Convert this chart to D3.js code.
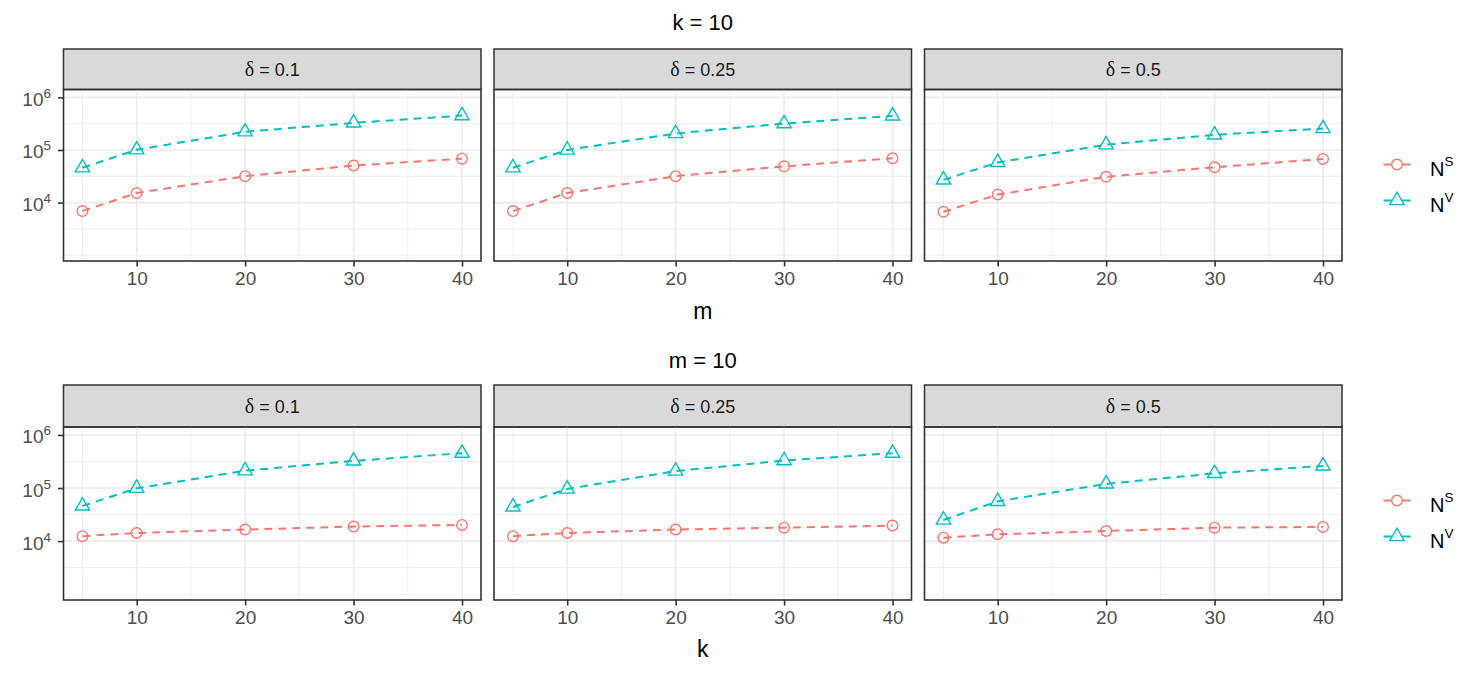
<!DOCTYPE html>
<html>
<head>
<meta charset="utf-8">
<script src="https://cdn.jsdelivr.net/npm/d3@7"></script>
<style>
  body { margin: 0; background: #fff; }
  svg { font-family: "Liberation Sans", Arial, sans-serif; }
</style>
</head>
<body>
<script>
// x values (m in top row, k in bottom row)
var xValues = [5, 10, 20, 30, 40];
var deltas = ["0.1", "0.25", "0.5"];
var xTicks = [10, 20, 30, 40];
var xMinor = [5, 15, 25, 35];
var yTicks = [1e4, 1e5, 1e6];
var yMinor = [1e3, Math.pow(10, 3.5), Math.pow(10, 4.5), Math.pow(10, 5.5)];

// k = 10, m varies
var topNs = [
  [6900, 15200, 31800, 50600, 68500],
  [6900, 15200, 31800, 49000, 69700],
  [6700, 14200, 31000, 47000, 67600]
];
var topNv = [
  [46000, 101000, 222000, 328000, 451000],
  [46000, 100000, 206000, 318000, 445000],
  [27000, 58000, 126000, 194000, 256000]
];

// m = 10, k varies
var botNs = [
  [12400, 14200, 16500, 18800, 20200],
  [12400, 14200, 16500, 17900, 19600],
  [11600, 13400, 15500, 17900, 18500]
];
var botNv = [
  [46000, 99000, 212000, 324000, 454000],
  [44000, 96000, 209000, 329000, 454000],
  [25000, 56000, 120000, 189000, 261000]
];

var colNs = "#F8766D", colNv = "#00BFC4";

var svg = d3.select("body").append("svg")
  .attr("width", 1475).attr("height", 675);

var panelLeft = 63.5, panelW = 417.5, panelGap = 13;

function triPath(r) {
  // R pch 2 style triangle, centred on the point
  var top = 1.555 * r, bot = 0.778 * r, hw = 1.347 * r;
  return "M0," + (-top) + "L" + hw + "," + bot + "L" + (-hw) + "," + bot + "Z";
}

function drawRow(row) {
  var x0 = panelLeft, x1 = panelLeft + 3 * panelW + 2 * panelGap;

  // row title
  svg.append("text")
    .attr("x", (x0 + x1) / 2).attr("y", row.titleY)
    .attr("text-anchor", "middle")
    .style("font-size", "22px").attr("fill", "#000")
    .text(row.title);

  // axis title
  svg.append("text")
    .attr("x", (x0 + x1) / 2).attr("y", row.axisTitleY)
    .attr("text-anchor", "middle")
    .style("font-size", "23px").attr("fill", "#000")
    .text(row.axisTitle);

  deltas.forEach(function (d, i) {
    var left = panelLeft + i * (panelW + panelGap);
    var xScale = d3.scaleLinear().domain([3.25, 41.75]).range([left, left + panelW]);
    var yScale = d3.scaleLog().domain([Math.pow(10, 2.89), Math.pow(10, 6.15)])
      .range([row.panelBottom, row.panelTop]);

    var g = svg.append("g");

    // strip
    g.append("rect")
      .attr("x", left).attr("y", row.stripTop)
      .attr("width", panelW).attr("height", row.panelTop - row.stripTop)
      .attr("fill", "#D9D9D9").attr("stroke", "#333").attr("stroke-width", 1.5);
    var st = g.append("text")
      .attr("x", left + panelW / 2).attr("y", (row.stripTop + row.panelTop) / 2 + 7)
      .attr("text-anchor", "middle")
      .style("font-size", "18px").attr("fill", "#1A1A1A");
    st.append("tspan").style("font-family", "'Liberation Serif', serif").style("font-size", "20px").text("δ");
    st.append("tspan").text(" = " + d);

    // grid
    var grid = g.append("g");
    grid.selectAll(".ymin").data(yMinor).enter().append("line")
      .attr("x1", left).attr("x2", left + panelW)
      .attr("y1", yScale).attr("y2", yScale)
      .attr("stroke", "#EBEBEB").attr("stroke-width", 0.8);
    grid.selectAll(".xmin").data(xMinor).enter().append("line")
      .attr("y1", row.panelTop).attr("y2", row.panelBottom)
      .attr("x1", xScale).attr("x2", xScale)
      .attr("stroke", "#EBEBEB").attr("stroke-width", 0.8);
    grid.selectAll(".ymaj").data(yTicks).enter().append("line")
      .attr("x1", left).attr("x2", left + panelW)
      .attr("y1", yScale).attr("y2", yScale)
      .attr("stroke", "#EBEBEB").attr("stroke-width", 1.6);
    grid.selectAll(".xmaj").data(xTicks).enter().append("line")
      .attr("y1", row.panelTop).attr("y2", row.panelBottom)
      .attr("x1", xScale).attr("x2", xScale)
      .attr("stroke", "#EBEBEB").attr("stroke-width", 1.6);

    // series
    var series = [
      { vals: row.ns[i], col: colNs, shape: "circle" },
      { vals: row.nv[i], col: colNv, shape: "tri" }
    ];
    var line = d3.line()
      .x(function (p, j) { return xScale(xValues[j]); })
      .y(function (p) { return yScale(p); });
    series.forEach(function (s) {
      g.append("path").datum(s.vals)
        .attr("d", line).attr("fill", "none")
        .attr("stroke", s.col).attr("stroke-width", 2)
        .attr("stroke-dasharray", "8,6");
      var pts = g.selectAll(null).data(s.vals).enter();
      if (s.shape === "circle") {
        pts.append("circle")
          .attr("cx", function (p, j) { return xScale(xValues[j]); })
          .attr("cy", yScale).attr("r", 5.3)
          .attr("fill", "none").attr("stroke", s.col).attr("stroke-width", 1.4);
      } else {
        pts.append("path")
          .attr("d", triPath(5.3))
          .attr("transform", function (p, j) { return "translate(" + xScale(xValues[j]) + "," + yScale(p) + ")"; })
          .attr("fill", "none").attr("stroke", s.col).attr("stroke-width", 1.4);
      }
    });

    // panel border
    g.append("rect")
      .attr("x", left).attr("y", row.panelTop)
      .attr("width", panelW).attr("height", row.panelBottom - row.panelTop)
      .attr("fill", "none").attr("stroke", "#333").attr("stroke-width", 1.6);

    // x axis
    var xa = g.append("g")
      .attr("transform", "translate(0," + row.panelBottom + ")")
      .call(d3.axisBottom(xScale).tickValues(xTicks).tickSize(5.5).tickPadding(5));
    xa.select(".domain").remove();
    xa.selectAll(".tick line").attr("stroke", "#333").attr("stroke-width", 1.6);
    xa.selectAll(".tick text")
      .attr("fill", "#4D4D4D").style("font-size", "19px")
      .style("font-family", "'Liberation Sans', Arial, sans-serif");

    // y axis (first column only)
    if (i === 0) {
      var ya = g.append("g")
        .attr("transform", "translate(" + left + ",0)")
        .call(d3.axisLeft(yScale).tickValues(yTicks).tickSize(5.5).tickPadding(7).tickFormat(function () { return ""; }));
      ya.select(".domain").remove();
      ya.selectAll(".tick line").attr("stroke", "#333").attr("stroke-width", 1.6);
      ya.selectAll(".tick text").each(function (v) {
        var t = d3.select(this)
          .attr("fill", "#4D4D4D").style("font-size", "19px")
          .style("font-family", "'Liberation Sans', Arial, sans-serif")
          .attr("dy", "8");
        t.append("tspan").text("10");
        t.append("tspan").attr("dy", -8).style("font-size", "13.5px").text(Math.round(Math.log10(v)));
      });
    }
  });

  // legend
  var lx = 1397;
  var leg = svg.append("g");
  [
    { col: colNs, shape: "circle", sup: "S", y: row.stripTop + 115.5 },
    { col: colNv, shape: "tri", sup: "V", y: row.stripTop + 151.5 }
  ].forEach(function (k) {
    leg.append("line")
      .attr("x1", lx - 13.5).attr("x2", lx + 13.5)
      .attr("y1", k.y).attr("y2", k.y)
      .attr("stroke", k.col).attr("stroke-width", 2);
    if (k.shape === "circle") {
      leg.append("circle").attr("cx", lx).attr("cy", k.y).attr("r", 5.3)
        .attr("fill", "#fff").attr("stroke", k.col).attr("stroke-width", 1.4);
    } else {
      leg.append("path").attr("d", triPath(5.3))
        .attr("transform", "translate(" + lx + "," + k.y + ")")
        .attr("fill", "#fff").attr("stroke", k.col).attr("stroke-width", 1.4);
    }
    var t = leg.append("text").attr("x", 1430).attr("y", k.y + 11)
      .style("font-size", "20px").attr("fill", "#000");
    t.append("tspan").text("N");
    t.append("tspan").attr("dy", -10).style("font-size", "13.5px").text(k.sup);
  });
}

drawRow({
  title: "k = 10", titleY: 30, axisTitle: "m", axisTitleY: 319,
  stripTop: 49, panelTop: 89.5, panelBottom: 261,
  ns: topNs, nv: topNv
});
drawRow({
  title: "m = 10", titleY: 368, axisTitle: "k", axisTitleY: 657,
  stripTop: 385, panelTop: 427, panelBottom: 600,
  ns: botNs, nv: botNv
});
</script>
</body>
</html>
